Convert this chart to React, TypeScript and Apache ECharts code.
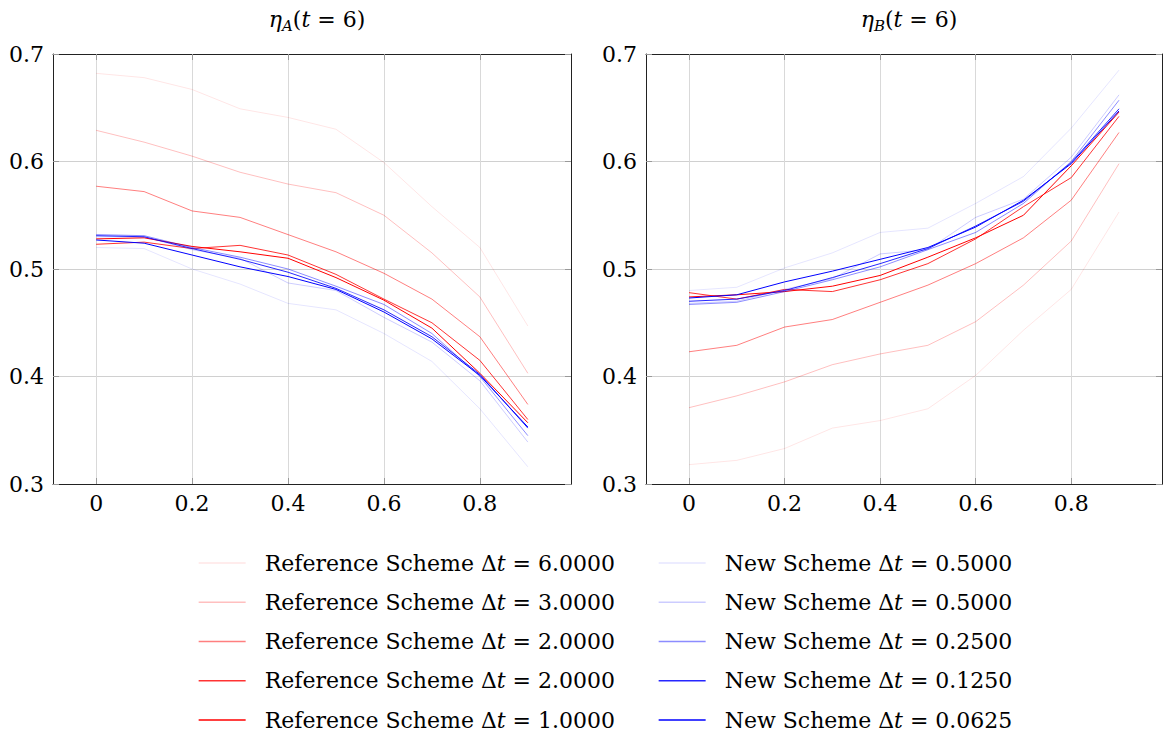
import React, { useEffect, useRef } from "react";
import * as echarts from "echarts";

const xs = [0, 0.1, 0.2, 0.3, 0.4, 0.5, 0.6, 0.7, 0.8, 0.9];
const xTicks = [0, 0.2, 0.4, 0.6, 0.8];

// eta_A(t=6)
const refA6 = [0.682, 0.678, 0.667, 0.649, 0.641, 0.63, 0.599, 0.558, 0.52, 0.447];
const refA3 = [0.629, 0.618, 0.605, 0.59, 0.579, 0.571, 0.55, 0.515, 0.474, 0.403];
const refA2a = [0.577, 0.572, 0.554, 0.548, 0.532, 0.516, 0.496, 0.472, 0.437, 0.374];
const refA2b = [0.523, 0.525, 0.519, 0.522, 0.513, 0.495, 0.472, 0.45, 0.415, 0.36];
const refA1 = [0.528, 0.529, 0.521, 0.516, 0.51, 0.492, 0.471, 0.445, 0.403, 0.357];
const newA05a = [0.52, 0.519, 0.5, 0.486, 0.468, 0.462, 0.44, 0.414, 0.37, 0.316];
const newA05b = [0.53, 0.53, 0.518, 0.51, 0.487, 0.48, 0.455, 0.432, 0.396, 0.339];
const newA025 = [0.532, 0.531, 0.52, 0.511, 0.5, 0.484, 0.467, 0.44, 0.4, 0.345];
const newA0125 = [0.531, 0.53, 0.519, 0.509, 0.497, 0.482, 0.462, 0.437, 0.402, 0.352];
const newA00625 = [0.527, 0.524, 0.513, 0.502, 0.493, 0.481, 0.46, 0.435, 0.401, 0.353];

// eta_B(t=6)
const refB6 = [0.318, 0.322, 0.333, 0.352, 0.359, 0.37, 0.401, 0.443, 0.481, 0.553];
const refB3 = [0.371, 0.382, 0.395, 0.411, 0.421, 0.429, 0.451, 0.485, 0.526, 0.598];
const refB2a = [0.423, 0.429, 0.446, 0.453, 0.469, 0.485, 0.505, 0.529, 0.564, 0.627];
const refB2b = [0.478, 0.472, 0.481, 0.479, 0.49, 0.505, 0.528, 0.558, 0.585, 0.642];
const refB1 = [0.474, 0.476, 0.479, 0.484, 0.494, 0.511, 0.529, 0.55, 0.596, 0.646];
const newB05a = [0.48, 0.483, 0.501, 0.515, 0.534, 0.538, 0.561, 0.586, 0.631, 0.685];
const newB05b = [0.468, 0.47, 0.481, 0.491, 0.514, 0.518, 0.548, 0.565, 0.604, 0.662];
const newB025 = [0.467, 0.469, 0.479, 0.49, 0.502, 0.518, 0.534, 0.561, 0.6, 0.657];
const newB0125 = [0.47, 0.472, 0.48, 0.492, 0.505, 0.519, 0.54, 0.563, 0.599, 0.649];
const newB00625 = [0.473, 0.476, 0.488, 0.498, 0.509, 0.52, 0.539, 0.564, 0.598, 0.647];

const refNames = [
  "Reference Scheme Δt = 6.0000",
  "Reference Scheme Δt = 3.0000",
  "Reference Scheme Δt = 2.0000",
  "Reference Scheme Δt = 2.0000\u200B",
  "Reference Scheme Δt = 1.0000",
];
const newNames = [
  "New Scheme Δt = 0.5000",
  "New Scheme Δt = 0.5000\u200B",
  "New Scheme Δt = 0.2500",
  "New Scheme Δt = 0.1250",
  "New Scheme Δt = 0.0625",
];
const redColors = [
  "rgba(255,0,0,0.1)",
  "rgba(255,0,0,0.25)",
  "rgba(255,0,0,0.5)",
  "rgba(255,0,0,0.8)",
  "rgba(255,0,0,1)",
];
const blueColors = [
  "rgba(0,0,255,0.1)",
  "rgba(0,0,255,0.2)",
  "rgba(0,0,255,0.45)",
  "rgba(0,0,255,0.85)",
  "rgba(0,0,255,1)",
];

const seriesA = [refA6, refA3, refA2a, refA2b, refA1, newA05a, newA05b, newA025, newA0125, newA00625];
const seriesB = [refB6, refB3, refB2a, refB2b, refB1, newB05a, newB05b, newB025, newB0125, newB00625];

const FONT = "DejaVu Serif";

export default function App() {
  const ref = useRef<HTMLDivElement>(null);
  useEffect(() => {
    if (!ref.current) return;
    const chart = echarts.init(ref.current, undefined, { renderer: "svg" });
    const names = [...refNames, ...newNames];
    const colors = [...redColors, ...blueColors];

    const grids = [
      { left: 53, top: 54, width: 518, height: 430 },
      { left: 646, top: 54, width: 516, height: 430 },
    ];

    const xAxes: any[] = [];
    const yAxes: any[] = [];
    grids.forEach((_, gi) => {
      const base = {
        type: "value",
        gridIndex: gi,
        min: -0.09,
        max: 0.99,
        axisLine: { show: true, onZero: false, lineStyle: { color: "#222", width: 1 } },
      };
      xAxes.push({
        ...base,
        position: "bottom",
        axisTick: { show: true, inside: true, length: 6, customValues: xTicks, lineStyle: { color: "#999" } },
        axisLabel: {
          show: true,
          customValues: xTicks,
          margin: 8,
          fontFamily: FONT,
          fontSize: 22,
          color: "#000",
          formatter: (v: number) => (v === 0 ? "0" : v.toFixed(1)),
        },
        splitLine: { show: true, lineStyle: { color: "#d9d9d9", width: 1 } },
      });
      xAxes.push({
        ...base,
        position: "top",
        axisTick: { show: true, inside: true, length: 6, customValues: xTicks, lineStyle: { color: "#999" } },
        axisLabel: { show: false },
        splitLine: { show: false },
      });
      const ybase = {
        type: "value",
        gridIndex: gi,
        min: 0.3,
        max: 0.7,
        interval: 0.1,
        axisLine: { show: true, onZero: false, lineStyle: { color: "#222", width: 1 } },
      };
      yAxes.push({
        ...ybase,
        position: "left",
        axisTick: { show: true, inside: true, length: 6, lineStyle: { color: "#999" } },
        axisLabel: {
          show: true,
          margin: 9,
          fontFamily: FONT,
          fontSize: 22,
          color: "#000",
          formatter: (v: number) => v.toFixed(1),
        },
        splitLine: { show: true, lineStyle: { color: "#d0d0d0", width: 1 } },
      });
      yAxes.push({
        ...ybase,
        position: "right",
        axisTick: { show: true, inside: true, length: 6, lineStyle: { color: "#999" } },
        axisLabel: { show: false },
        splitLine: { show: false },
      });
    });

    const series: any[] = [];
    [seriesA, seriesB].forEach((set, gi) => {
      set.forEach((vals, i) => {
        series.push({
          type: "line",
          name: names[i],
          xAxisIndex: gi * 2,
          yAxisIndex: gi * 2,
          data: xs.map((x, k) => [x, vals[k]]),
          symbol: "none",
          showSymbol: false,
          lineStyle: { color: colors[i], width: 1 },
          itemStyle: { color: colors[i] },
          silent: true,
        });
      });
    });

    const legendFormatter = (name: string) => {
      const clean = name.replace("\u200B", "");
      const idx = clean.indexOf("Δt");
      return clean.slice(0, idx) + "Δ{i|t}" + clean.slice(idx + 2);
    };
    const legendText = {
      fontFamily: FONT,
      fontSize: 22,
      color: "#000",
      lineHeight: 30,
      padding: [0, 0, 0, 14],
      rich: {
        i: { fontFamily: FONT, fontSize: 22, fontStyle: "italic", color: "#000", lineHeight: 30 },
      },
    };
    const legendCommon = {
      orient: "vertical",
      top: 548,
      itemWidth: 47,
      itemHeight: 14,
      itemGap: 9.25,
      padding: 0,
      selectedMode: false,
      formatter: legendFormatter,
      textStyle: legendText,
      itemStyle: { opacity: 0 },
      lineStyle: { width: 1.3 },
    };

    const titleRich = {
      e: { fontFamily: FONT, fontSize: 22, fontStyle: "italic", fontWeight: "normal", color: "#000", lineHeight: 28, verticalAlign: "middle" },
      s: { fontFamily: FONT, fontSize: 15, fontStyle: "italic", fontWeight: "normal", color: "#000", lineHeight: 14, verticalAlign: "bottom" },
      n: { fontFamily: FONT, fontSize: 22, fontWeight: "normal", color: "#000", lineHeight: 28, verticalAlign: "middle" },
    };

    chart.setOption({
      animation: false,
      backgroundColor: "#fff",
      title: [
        {
          text: "{e|η}{s|A}{n|(}{e|t}{n| = 6)}",
          left: 312,
          top: 0,
          textAlign: "center",
          textStyle: { fontWeight: "normal", rich: titleRich },
        },
        {
          text: "{e|η}{s|B}{n|(}{e|t}{n| = 6)}",
          left: 904,
          top: 0,
          textAlign: "center",
          textStyle: { fontWeight: "normal", rich: titleRich },
        },
      ],
      grid: grids,
      xAxis: xAxes,
      yAxis: yAxes,
      legend: [
        { ...legendCommon, left: 198, data: refNames },
        { ...legendCommon, left: 658, data: newNames },
      ],
      series,
    });
    return () => chart.dispose();
  }, []);
  return (
    <div
      ref={ref}
      style={{ position: "fixed", left: 0, top: 0, width: 1165, height: 740, background: "#fff" }}
    />
  );
}
